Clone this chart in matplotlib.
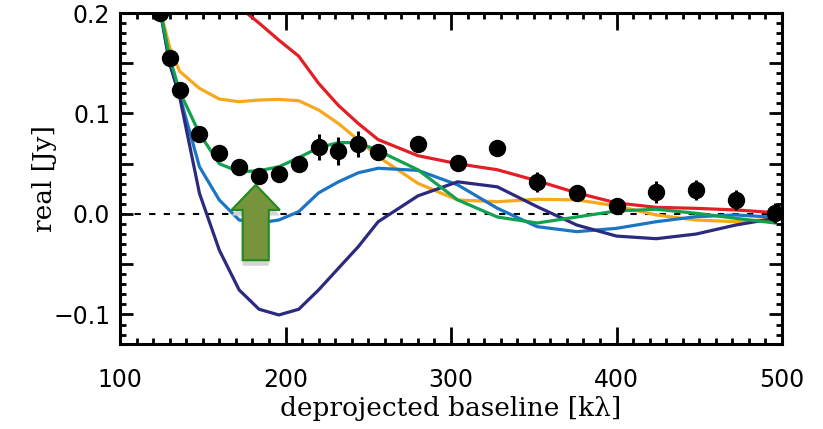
import numpy as np
import matplotlib.pyplot as plt
from matplotlib.patches import Polygon
from matplotlib.ticker import MultipleLocator, FuncFormatter
import matplotlib.patheffects as pe

# deprojected baselines [klambda]
uv = [124, 130, 136, 148, 160, 172, 184, 196, 208, 220, 232, 244, 256,
      280, 304, 328, 352, 376, 400, 424, 448, 472, 496]

# observed real part [Jy] and errors
real = [0.200, 0.155, 0.123, 0.080, 0.061, 0.047, 0.038, 0.040, 0.050, 0.067,
        0.063, 0.070, 0.062, 0.070, 0.051, 0.066, 0.032, 0.021, 0.008, 0.022,
        0.024, 0.014, 0.001]
err = [0.005, 0.005, 0.005, 0.005, 0.005, 0.005, 0.005, 0.005, 0.005, 0.013,
       0.014, 0.013, 0.006, 0.005, 0.005, 0.005, 0.010, 0.007, 0.005, 0.011,
       0.010, 0.010, 0.010]

# model visibilities at the same baselines
mod_red = [0.45, 0.40, 0.35, 0.28, 0.24, 0.206, 0.190, 0.173, 0.157, 0.130,
           0.108, 0.090, 0.074, 0.058, 0.050, 0.044, 0.033, 0.021, 0.011,
           0.0066, 0.0056, 0.004, 0.0013]
mod_orange = [0.205, 0.166, 0.142, 0.125, 0.1144, 0.1117, 0.1134, 0.114,
              0.1127, 0.1035, 0.090, 0.0736, 0.057, 0.0305, 0.0139, 0.0122,
              0.0146, 0.014, 0.008, -0.001, -0.006, -0.0077, -0.005]
mod_green = [0.205, 0.156, 0.122, 0.080, 0.050, 0.042, 0.043, 0.047, 0.056,
             0.066, 0.071, 0.071, 0.063, 0.044, 0.014, -0.003, -0.009, -0.003,
             0.003, 0.0047, 0.0007, -0.0043, -0.009]
mod_blue = [0.205, 0.150, 0.118, 0.047, 0.0139, -0.006, -0.009, -0.006,
            0.0023, 0.021, 0.032, 0.041, 0.0455, 0.0434, 0.029, 0.0057,
            -0.0126, -0.0176, -0.0143, -0.0077, -0.0027, -0.001, -0.0033]
mod_navy = [0.205, 0.150, 0.117, 0.0206, -0.036, -0.0756, -0.0948, -0.1005,
            -0.0948, -0.0756, -0.054, -0.0325, -0.0077, 0.018, 0.032, 0.027,
            0.0073, -0.011, -0.022, -0.0246, -0.020, -0.011, -0.0043]

# arrow marking the dip
arrow_x = 182.0
arrow_tip = 0.029
arrow_neck = 0.004
arrow_base = -0.046
head_hw = 14.6
shaft_hw = 7.9

fig = plt.figure(figsize=(8.23, 4.29), dpi=100)
ax = fig.add_axes([120/823, 1-344/429, 662/823, 331/429])

ax.axhline(0, color='black', lw=1.5, ls=(0, (3, 4)), zorder=1)

lw = 2.3
ax.plot(uv, mod_red, color='#e31e24', lw=lw, zorder=2)
ax.plot(uv, mod_orange, color='#f7a81b', lw=lw, zorder=2)
ax.plot(uv, mod_blue, color='#1b75c4', lw=lw, zorder=2)
ax.plot(uv, mod_navy, color='#2b2a7d', lw=lw, zorder=2)
ax.plot(uv, mod_green, color='#11a150', lw=lw, zorder=2)

ax.errorbar(uv, real, yerr=err, fmt='o', color='black', ms=11.5,
            elinewidth=2.2, capsize=0, zorder=4, clip_on=True)

arrow = Polygon([(arrow_x, arrow_tip),
                 (arrow_x + head_hw, arrow_neck),
                 (arrow_x + shaft_hw, arrow_neck),
                 (arrow_x + shaft_hw, arrow_base),
                 (arrow_x - shaft_hw, arrow_base),
                 (arrow_x - shaft_hw, arrow_neck),
                 (arrow_x - head_hw, arrow_neck)],
                closed=True, facecolor='#77933c', edgecolor='#1f8a1f',
                lw=1.5, zorder=3)
arrow.set_path_effects([pe.SimplePatchShadow(offset=(0, -4), shadow_rgbFace='#d4d4d4', alpha=1.0),
                        pe.Normal()])
ax.add_patch(arrow)

ax.set_xlim(100, 500)
ax.set_ylim(-0.1294, 0.2)

ax.xaxis.set_major_locator(MultipleLocator(100))
ax.xaxis.set_minor_locator(MultipleLocator(10))
ax.yaxis.set_major_locator(MultipleLocator(0.05))
ax.yaxis.set_minor_locator(MultipleLocator(0.01))


def ylab(v, pos):
    if abs(round(v / 0.1) * 0.1 - v) > 1e-6:
        return ''
    return '%.1f' % v if v >= -1e-9 else '\u2212%.1f' % abs(v)


ax.yaxis.set_major_formatter(FuncFormatter(ylab))

ax.tick_params(which='both', direction='in', top=True, right=True, width=2)
ax.tick_params(axis='x', which='major', length=12, pad=17, labelsize=17)
ax.tick_params(axis='y', which='major', length=9.5, pad=7, labelsize=17)
ax.tick_params(which='minor', length=4)
for s in ax.spines.values():
    s.set_linewidth(2.2)

ax.set_xlabel('deprojected baseline [k\u03bb]', family='DejaVu Serif', fontsize=19, labelpad=3)
ax.set_ylabel('real [Jy]', family='DejaVu Serif', fontsize=19, labelpad=-3)

fig.savefig('out.png', dpi=100)
